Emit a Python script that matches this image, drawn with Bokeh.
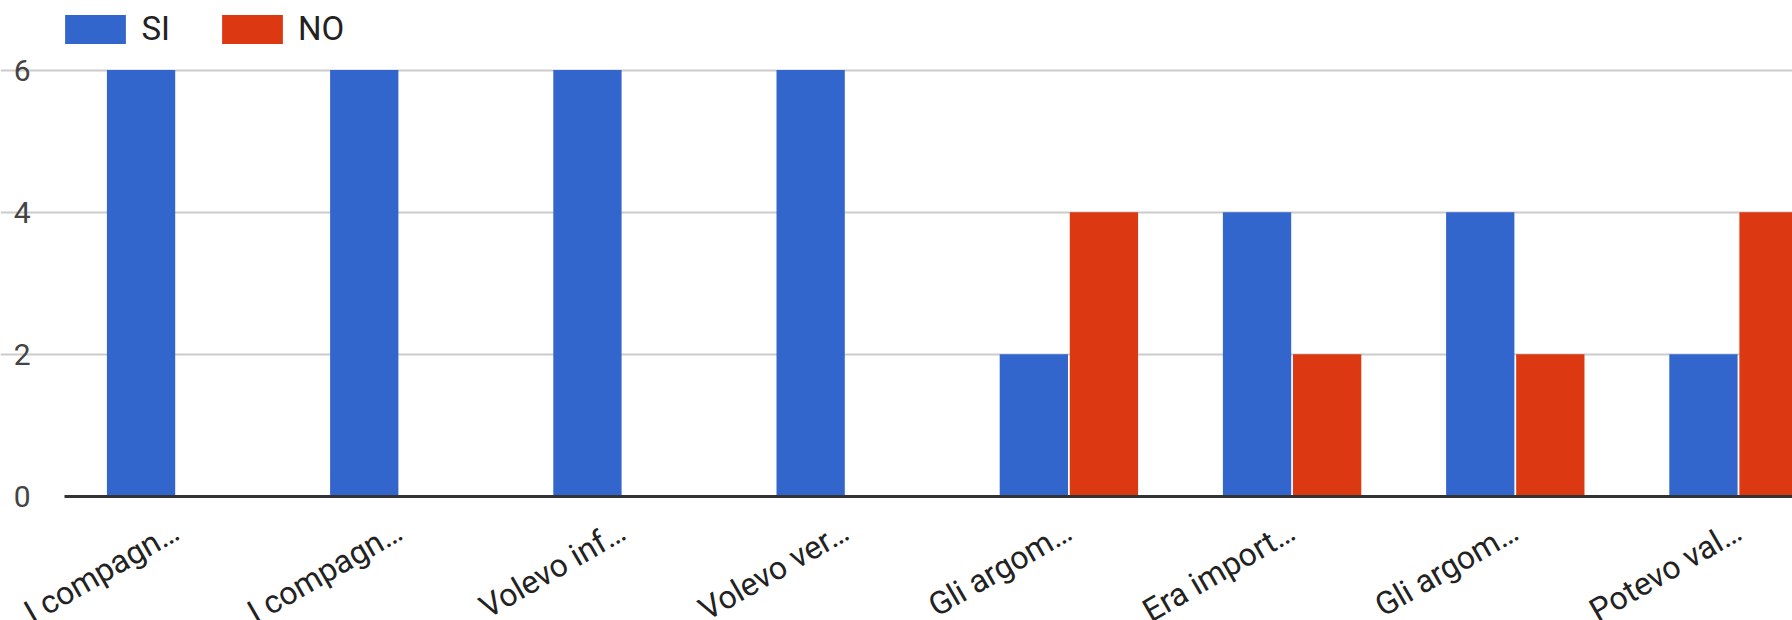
import math
from bokeh.plotting import figure
from bokeh.models import (Range1d, FixedTicker, ColumnDataSource, Legend,
                          LegendItem)
from bokeh.embed import file_html
from bokeh.resources import INLINE

categories = ["I compagn…", "I compagn…", "Volevo inf…", "Volevo ver…",
              "Gli argom…", "Era import…", "Gli argom…", "Potevo val…"]
si_values = [6, 6, 6, 6, 2, 4, 4, 2]
no_values = [0, 0, 0, 0, 4, 2, 2, 4]
series_names = ["SI", "NO"]
y_ticks = [0, 2, 4, 6]

BLUE = "#3366cc"
RED = "#dc3912"
FONT = "Roboto"

centers = [i + 0.5 for i in range(len(categories))]
off = 0.157
bw = 0.306
X_END = 7.742
src = ColumnDataSource(dict(
    xs=[c - off for c in centers],
    xn=[c + off for c in centers],
    si=si_values,
    no=no_values,
))

p = figure(width=1792, height=620, output_backend="svg", toolbar_location=None,
           x_range=Range1d(-0.2867, X_END), y_range=Range1d(-1.7445, 6.978),
           min_border_left=0, min_border_right=0, min_border_top=0,
           min_border_bottom=0)
p.outline_line_color = None

r_si = p.vbar(x="xs", top="si", width=bw, bottom=0, source=src,
              fill_color=BLUE, line_color=None)
r_no = p.vbar(x="xn", top="no", width=bw, bottom=0, source=src,
              fill_color=RED, line_color=None)

# category axis pinned at y = 0 (its line is the dark baseline)
p.xaxis.fixed_location = 0
p.xaxis.bounds = (0, X_END)
p.xaxis.ticker = FixedTicker(ticks=centers)
p.xaxis.major_label_overrides = {c: lab for c, lab in zip(centers, categories)}
p.xaxis.major_label_orientation = math.pi / 6
p.xaxis.major_label_text_font = FONT
p.xaxis.major_label_text_font_size = "32px"
p.xaxis.major_label_text_color = "#222222"
p.xaxis.major_tick_line_color = None
p.xaxis.major_tick_out = 0
p.xaxis.major_tick_in = 0
p.xaxis.minor_tick_line_color = None
p.xaxis.axis_line_color = "#333333"
p.xaxis.axis_line_width = 3
p.xaxis.major_label_standoff = 32
p.xgrid.grid_line_color = None

# value axis pinned at x = 0
p.yaxis.fixed_location = 0
p.yaxis.ticker = FixedTicker(ticks=y_ticks)
p.yaxis.major_label_text_font = FONT
p.yaxis.major_label_text_font_size = "30px"
p.yaxis.major_label_text_color = "#444444"
p.yaxis.major_tick_line_color = None
p.yaxis.major_tick_out = 0
p.yaxis.major_tick_in = 0
p.yaxis.minor_tick_line_color = None
p.yaxis.axis_line_color = None
p.yaxis.major_label_standoff = 34

p.ygrid.ticker = FixedTicker(ticks=[2, 4, 6])
p.ygrid.bounds = (0, X_END)
p.ygrid.grid_line_color = "#cccccc"
p.ygrid.grid_line_width = 2

legend = Legend(items=[LegendItem(label=series_names[0], renderers=[r_si]),
                       LegendItem(label=series_names[1], renderers=[r_no])],
                orientation="horizontal", location=(57.4, 571.6),
                glyph_width=76, glyph_height=36, label_standoff=8,
                spacing=44, padding=0, margin=0,
                border_line_color=None, background_fill_alpha=0,
                label_text_font=FONT, label_text_font_size="33px",
                label_text_color="#222222")
p.add_layout(legend)

open("out.html", "w").write(file_html(p, INLINE))
